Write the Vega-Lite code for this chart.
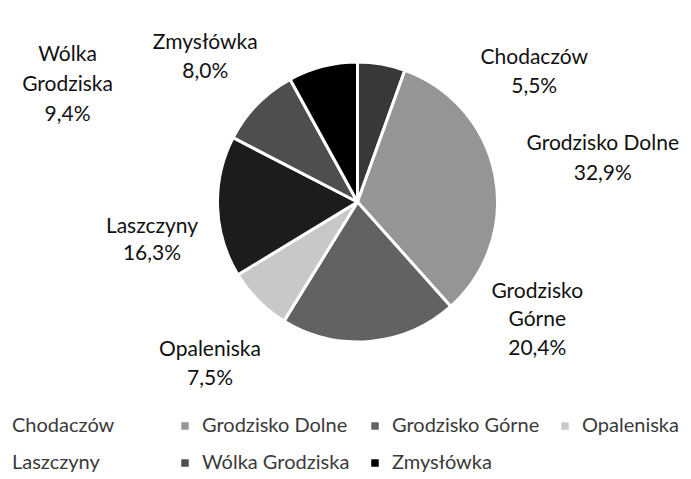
{
  "$schema": "https://vega.github.io/schema/vega-lite/v6.json",
  "autosize": {"type": "fit", "contains": "padding"},
  "width": 691,
  "height": 479,
  "padding": {"left": 24, "top": 0, "right": 0, "bottom": 75},
  "background": "white",
  "config": {"view": {"stroke": null}, "font": "Lato"},
  "data": {"values": [
    {"name": "Chodaczów", "label": "Chodaczów", "value": 5.5, "rank": 1},
    {"name": "Grodzisko Dolne", "label": "Grodzisko Dolne", "value": 32.9, "rank": 2},
    {"name": "Grodzisko Górne", "label": "Grodzisko\nGórne", "value": 20.4, "rank": 3},
    {"name": "Opaleniska", "label": "Opaleniska", "value": 7.5, "rank": 4},
    {"name": "Laszczyny", "label": "Laszczyny", "value": 16.3, "rank": 5},
    {"name": "Wólka Grodziska", "label": "Wólka\nGrodziska", "value": 9.4, "rank": 6},
    {"name": "Zmysłówka", "label": "Zmysłówka", "value": 8.0, "rank": 7}
  ]},
  "transform": [
    {"stack": "value", "groupby": [], "sort": [{"field": "rank", "order": "ascending"}], "as": ["t0", "t1"]},
    {"calculate": "(datum.t0 + datum.t1) / 2", "as": "mid"},
    {"calculate": "datum.label + '\\n' + replace(format(datum.value, '.1f'), '.', ',') + '%'", "as": "txt"}
  ],
  "layer": [
    {
      "mark": {"type": "arc", "outerRadius": 140, "stroke": "white", "strokeWidth": 3},
      "encoding": {
        "theta": {"field": "t0", "type": "quantitative", "scale": {"domain": [0, 100]}},
        "theta2": {"field": "t1"},
        "color": {
          "field": "name", "type": "nominal",
          "scale": {
            "domain": ["Chodaczów", "Grodzisko Dolne", "Grodzisko Górne", "Opaleniska", "Laszczyny", "Wólka Grodziska", "Zmysłówka"],
            "range": ["#383838", "#959595", "#626262", "#c8c8c8", "#1c1c1c", "#4e4e4e", "#000000"]
          },
          "legend": {
            "title": null,
            "orient": "none",
            "legendX": -39,
            "legendY": 416,
            "direction": "horizontal",
            "columns": 4,
            "gridAlign": "all",
            "symbolType": "square",
            "symbolSize": 56,
            "symbolStrokeWidth": 0,
            "labelFont": "Lato",
            "labelFontSize": 20,
            "labelColor": "#3a3a3a",
            "labelOffset": 7,
            "columnPadding": 15,
            "rowPadding": 17,
            "labelLimit": 300
          }
        }
      }
    },
    {
      "transform": [{"filter": "datum.name == 'Chodaczów'"}],
      "mark": {"type": "text", "radius": 228, "thetaOffset": 0.714, "lineBreak": "\n", "fontSize": 21, "font": "Lato", "color": "#111111", "lineHeight": 29, "baseline": "middle"},
      "encoding": {"theta": {"field": "mid", "type": "quantitative"}, "text": {"field": "txt"}}
    },
    {
      "transform": [{"filter": "datum.name == 'Grodzisko Dolne'"}],
      "mark": {"type": "text", "radius": 252, "thetaOffset": -0.040, "lineBreak": "\n", "fontSize": 21, "font": "Lato", "color": "#111111", "lineHeight": 30, "baseline": "middle"},
      "encoding": {"theta": {"field": "mid", "type": "quantitative"}, "text": {"field": "txt"}}
    },
    {
      "transform": [{"filter": "datum.name == 'Grodzisko Górne'"}],
      "mark": {"type": "text", "radius": 201, "thetaOffset": -1.019, "lineBreak": "\n", "fontSize": 21, "font": "Lato", "color": "#111111", "lineHeight": 28.5, "baseline": "middle"},
      "encoding": {"theta": {"field": "mid", "type": "quantitative"}, "text": {"field": "txt"}}
    },
    {
      "transform": [{"filter": "datum.name == 'Opaleniska'"}],
      "mark": {"type": "text", "radius": 209, "thetaOffset": -0.005, "lineBreak": "\n", "fontSize": 21, "font": "Lato", "color": "#111111", "lineHeight": 28.5, "baseline": "middle"},
      "encoding": {"theta": {"field": "mid", "type": "quantitative"}, "text": {"field": "txt"}}
    },
    {
      "transform": [{"filter": "datum.name == 'Laszczyny'"}],
      "mark": {"type": "text", "radius": 207, "thetaOffset": -0.086, "lineBreak": "\n", "fontSize": 21, "font": "Lato", "color": "#111111", "lineHeight": 27, "baseline": "middle"},
      "encoding": {"theta": {"field": "mid", "type": "quantitative"}, "text": {"field": "txt"}}
    },
    {
      "transform": [{"filter": "datum.name == 'Wólka Grodziska'"}],
      "mark": {"type": "text", "radius": 325, "thetaOffset": -0.304, "lineBreak": "\n", "fontSize": 21, "font": "Lato", "color": "#111111", "lineHeight": 30, "baseline": "middle"},
      "encoding": {"theta": {"field": "mid", "type": "quantitative"}, "text": {"field": "txt"}}
    },
    {
      "transform": [{"filter": "datum.name == 'Zmysłówka'"}],
      "mark": {"type": "text", "radius": 220, "thetaOffset": -0.513, "lineBreak": "\n", "fontSize": 21, "font": "Lato", "color": "#111111", "lineHeight": 29, "baseline": "middle"},
      "encoding": {"theta": {"field": "mid", "type": "quantitative"}, "text": {"field": "txt"}}
    }
  ]
}
